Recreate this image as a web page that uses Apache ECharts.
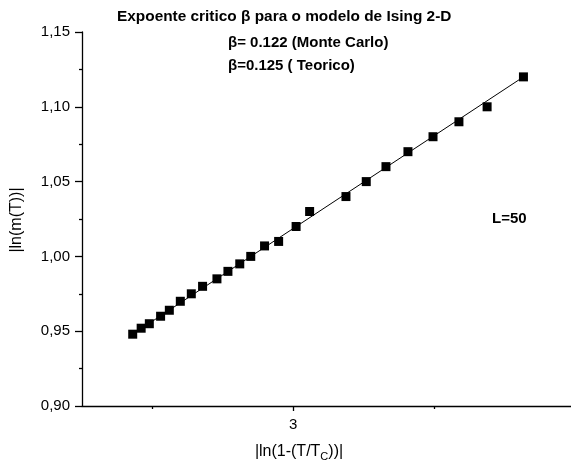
<!DOCTYPE html>
<html>
<head>
<meta charset="utf-8">
<script src="https://cdn.jsdelivr.net/npm/echarts@6/dist/echarts.min.js"></script>
<style>
  html, body { margin: 0; padding: 0; background: #fff; }
  #chart { width: 571px; height: 468px; }
</style>
</head>
<body>
<div id="chart"></div>
<script>
// |ln(1 - T/Tc)| for each simulated temperature (L = 50)
const lnReducedT = [
  2.430, 2.460, 2.489, 2.529, 2.560, 2.599, 2.638, 2.678, 2.729, 2.768,
  2.810, 2.849, 2.898, 2.948, 3.010, 3.058, 3.187, 3.259, 3.329, 3.407,
  3.496, 3.588, 3.688, 3.817
];
// |ln(m(T))| at the same temperatures
const lnMagnet = [
  0.948, 0.952, 0.955, 0.960, 0.964, 0.970, 0.975, 0.980, 0.985, 0.990,
  0.995, 1.000, 1.007, 1.010, 1.020, 1.030, 1.040, 1.050, 1.060, 1.070,
  1.080, 1.090, 1.100, 1.120
];
// endpoints of the straight-line fit
const fitX = [2.430, 3.817];
const fitY = [0.948, 1.120];

const yTicks = [0.90, 0.95, 1.00, 1.05, 1.10, 1.15];
const xMajorTicks = [3, 4];
const xMinorTicks = [2.5, 3.5];

const FONT = 'Liberation Sans, Arial, sans-serif';
const INK = '#000';

const points = lnReducedT.map((x, i) => [x, lnMagnet[i]]);
const fit = fitX.map((x, i) => [x, fitY[i]]);

const chart = echarts.init(document.getElementById('chart'), null, { renderer: 'canvas' });

chart.setOption({
  backgroundColor: '#fff',
  animation: false,
  grid: { left: 82, top: 32, height: 374, width: 493, containLabel: false, outerBoundsMode: 'none' },
  xAxis: [
    {
      type: 'value',
      position: 'bottom',
      min: 2.25,
      max: 4,
      axisLine: { show: true, lineStyle: { color: INK, width: 1.3 } },
      axisTick: { show: true, length: 5, inside: false, customValues: xMajorTicks,
                  lineStyle: { color: INK, width: 1.3 } },
      axisLabel: { show: true, customValues: xMajorTicks, margin: 11,
                   fontFamily: FONT, fontSize: 15, color: INK,
                   hideOverlap: false, showMaxLabel: true,
                   formatter: v => String(v) },
      splitLine: { show: false }
    },
    {
      type: 'value',
      position: 'bottom',
      offset: 0,
      min: 2.25,
      max: 4,
      axisLine: { show: false },
      axisTick: { show: true, length: 3, customValues: xMinorTicks,
                  lineStyle: { color: INK, width: 1.3 } },
      axisLabel: { show: false },
      splitLine: { show: false }
    }
  ],
  yAxis: {
    type: 'value',
    min: 0.90,
    max: 1.15,
    interval: 0.05,
    axisLine: { show: true, lineStyle: { color: INK, width: 1.3 } },
    axisTick: { show: true, length: 7, lineStyle: { color: INK, width: 1.3 } },
    minorTick: { show: true, splitNumber: 2, length: 3, lineStyle: { color: INK, width: 1.3 } },
    axisLabel: {
      margin: 12,
      fontFamily: FONT, fontSize: 15, color: INK,
      customValues: yTicks,
      formatter: v => v.toFixed(2).replace('.', ',')
    },
    splitLine: { show: false }
  },
  series: [
    {
      type: 'line',
      data: fit,
      showSymbol: false,
      lineStyle: { color: INK, width: 1 },
      silent: true,
      z: 1
    },
    {
      type: 'scatter',
      data: points,
      symbol: 'rect',
      symbolSize: 9,
      itemStyle: { color: INK, opacity: 1 },
      z: 2
    }
  ],
  graphic: [
    {
      type: 'text', left: 117, top: 9,
      style: { text: 'Expoente critico β para o modelo de Ising 2-D',
               font: 'bold 15.4px ' + FONT, fill: INK }
    },
    {
      type: 'text', left: 228, top: 35,
      style: { text: 'β= 0.122 (Monte Carlo)', font: 'bold 15px ' + FONT, fill: INK }
    },
    {
      type: 'text', left: 228, top: 58,
      style: { text: 'β=0.125 ( Teorico)', font: 'bold 15px ' + FONT, fill: INK }
    },
    {
      type: 'text', left: 492, top: 211,
      style: { text: 'L=50', font: 'bold 15px ' + FONT, fill: INK }
    },
    {
      type: 'text', x: 299, y: 452,
      style: {
        text: '{a||ln(1-(T/T}{s|C}{a|))|}',
        align: 'center', verticalAlign: 'middle',
        rich: {
          a: { font: '16px ' + FONT, fill: INK },
          s: { font: '11px ' + FONT, fill: INK, padding: [10, 0, 0, 0] }
        }
      }
    },
    {
      type: 'text', x: 17, y: 220, rotation: Math.PI / 2,
      style: { text: '|ln(m(T))|', font: '16px ' + FONT, fill: INK,
               align: 'center', verticalAlign: 'middle' }
    }
  ]
});
</script>
</body>
</html>
